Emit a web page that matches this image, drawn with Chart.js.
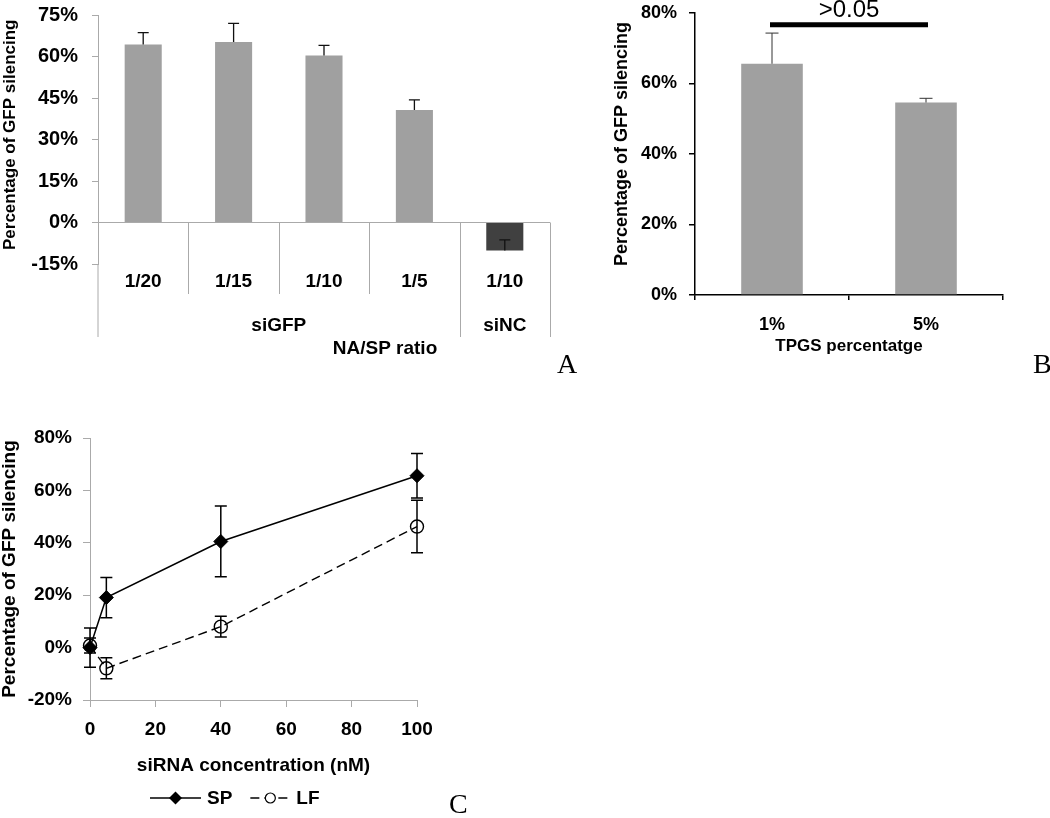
<!DOCTYPE html>
<html>
<head>
<meta charset="utf-8">
<title>GFP silencing</title>
<script src="https://cdn.jsdelivr.net/npm/chart.js@4.4.1/dist/chart.umd.min.js"></script>
<style>
  html, body { margin: 0; padding: 0; background: #fff; }
  #page { position: relative; width: 1050px; height: 818px; overflow: hidden; }
  .panel { position: absolute; }
  .tag { position: absolute; font-family: "Liberation Serif", "Times New Roman", serif; font-size: 28px; line-height: 28px; color: #000; }
</style>
</head>
<body>
<div id="page">
  <div class="panel" style="left:0;top:0;width:560px;height:380px"><canvas id="chartA"></canvas></div>
  <div class="panel" style="left:580px;top:0;width:470px;height:420px"><canvas id="chartB"></canvas></div>
  <div class="panel" style="left:0;top:420px;width:480px;height:398px"><canvas id="chartC"></canvas></div>
  <div class="tag" style="left:557px;top:350px">A</div>
  <div class="tag" style="left:1033px;top:350px">B</div>
  <div class="tag" style="left:449px;top:790px">C</div>
</div>
<script>
// Panel A - silencing vs NA/SP ratio
const ratioLabels = ['1/20', '1/15', '1/10', '1/5', '1/10'];
const ratioGroups = ['siGFP', 'siGFP', 'siGFP', 'siGFP', 'siNC'];
const ratioSilencing = [64.3, 65.2, 60.4, 40.7, -10.1];
const ratioError = [4.3, 6.8, 3.6, 3.6, 3.8];
const ratioTicks = [-15, 0, 15, 30, 45, 60, 75];

// Panel B - silencing vs TPGS percentage
const tpgsLabels = ['1%', '5%'];
const tpgsSilencing = [65.6, 54.6];
const tpgsError = [8.7, 1.2];
const tpgsTicks = [0, 20, 40, 60, 80];
const tpgsPValue = '>0.05';
const tpgsBracketLevel = 76.7;

// Panel C - silencing vs siRNA concentration
const concentrations = [0, 5, 40, 100];
const spSilencing = [0, 19.1, 40.5, 65.6];
const spError = [7.5, 7.7, 13.5, 8.5];
const lfSilencing = [0.8, -7.9, 8.0, 46.2];
const lfError = [2.9, 4.0, 4.0, 10.0];
const concTicks = [0, 20, 40, 60, 80, 100];
const concPctTicks = [-20, 0, 20, 40, 60, 80];

const FONT = '"Liberation Sans", Arial, Helvetica, sans-serif';
const axisGray = '#aaaaaa';
const barGray = '#a0a0a0';
const barDark = '#404040';

const bold = size => ({ family: FONT, size: size, weight: 'bold', lineHeight: 1.2 });
const pct = v => v + '%';
const fixedTicks = list => scale => { scale.ticks = list.map(v => ({ value: v })); };
// pin the scale box size so the plot area lands where the figure has it
const pinWidth = w => s => { s.width = w; s.paddingTop = 0; s.paddingBottom = 0; };
const pinHeight = h => s => { s.height = h; s.paddingLeft = 0; s.paddingRight = 0; };

// error bars drawn from the y scale (plus only, or plus and minus)
const errorBars = {
  id: 'errorBars',
  afterDatasetsDraw(chart) {
    const ctx = chart.ctx;
    const yScale = chart.scales.y;
    chart.data.datasets.forEach((ds, di) => {
      if (!ds.errors) return;
      const meta = chart.getDatasetMeta(di);
      ctx.save();
      ctx.strokeStyle = ds.errorColor || '#000';
      ctx.lineWidth = ds.errorWidth || 1;
      meta.data.forEach((el, i) => {
        const raw = ds.data[i];
        const val = typeof raw === 'object' ? raw.y : raw;
        const err = ds.errors[i];
        const cap = ds.errorCap / 2;
        const top = yScale.getPixelForValue(val + err);
        const bottom = yScale.getPixelForValue(ds.errorBoth ? val - err : val);
        ctx.beginPath();
        ctx.moveTo(el.x, top);
        ctx.lineTo(el.x, bottom);
        ctx.moveTo(el.x - cap, top);
        ctx.lineTo(el.x + cap, top);
        if (ds.errorBoth) {
          ctx.moveTo(el.x - cap, bottom);
          ctx.lineTo(el.x + cap, bottom);
        }
        ctx.stroke();
      });
      ctx.restore();
    });
  }
};

// multi-level category axis for panel A (dividers + group names)
const groupAxisA = {
  id: 'groupAxisA',
  afterDraw(chart) {
    const { ctx, chartArea, scales: { x, y } } = chart;
    const zeroY = y.getPixelForValue(0);
    const innerBottom = chartArea.bottom + 30;
    const outerBottom = chartArea.bottom + 73;
    const half = (x.getPixelForValue(1) - x.getPixelForValue(0)) / 2;
    ctx.save();
    ctx.strokeStyle = axisGray;
    ctx.lineWidth = 1;
    ctx.beginPath();
    ctx.moveTo(chartArea.left, chartArea.bottom);
    ctx.lineTo(chartArea.left, outerBottom);
    for (let i = 1; i <= ratioLabels.length; i++) {
      const bx = Math.round(x.getPixelForValue(i - 1) + half) + 0.5;
      const groupEnd = i === ratioLabels.length || ratioGroups[i] !== ratioGroups[i - 1];
      ctx.moveTo(bx, zeroY);
      ctx.lineTo(bx, groupEnd ? outerBottom : innerBottom);
    }
    ctx.stroke();

    ctx.fillStyle = '#000';
    ctx.font = 'bold 19px ' + FONT;
    ctx.textAlign = 'center';
    ctx.textBaseline = 'middle';
    let start = 0;
    for (let i = 1; i <= ratioGroups.length; i++) {
      if (i === ratioGroups.length || ratioGroups[i] !== ratioGroups[start]) {
        const cx = (x.getPixelForValue(start) + x.getPixelForValue(i - 1)) / 2;
        ctx.fillText(ratioGroups[start], cx, chartArea.bottom + 62);
        start = i;
      }
    }
    ctx.fillText('NA/SP ratio', 385, chartArea.bottom + 85);
    ctx.restore();
  }
};

// significance bracket for panel B
const pValueBar = {
  id: 'pValueBar',
  afterDraw(chart) {
    const { ctx, scales: { y } } = chart;
    const bars = chart.getDatasetMeta(0).data;
    const ly = y.getPixelForValue(tpgsBracketLevel);
    ctx.save();
    ctx.strokeStyle = '#000';
    ctx.lineWidth = 5;
    ctx.beginPath();
    ctx.moveTo(bars[0].x - 2, ly);
    ctx.lineTo(bars[1].x + 2, ly);
    ctx.stroke();
    ctx.fillStyle = '#000';
    ctx.font = '24px ' + FONT;
    ctx.textAlign = 'center';
    ctx.textBaseline = 'alphabetic';
    ctx.fillText(tpgsPValue, (bars[0].x + bars[1].x) / 2, ly - 8);
    ctx.restore();
  }
};

// Excel style legend (line + marker) for panel C
const legendC = {
  id: 'legendC',
  afterDraw(chart) {
    const ctx = chart.ctx;
    const ly = chart.chartArea.bottom + 98;
    let lx = 150;
    chart.data.datasets.forEach(ds => {
      const len = ds.borderDash ? 40 : 51;
      ctx.save();
      ctx.strokeStyle = '#000';
      ctx.lineWidth = ds.borderWidth;
      ctx.setLineDash(ds.borderDash || []);
      ctx.beginPath();
      ctx.moveTo(lx, ly);
      ctx.lineTo(lx + len, ly);
      ctx.stroke();
      ctx.setLineDash([]);
      const mx = lx + len / 2;
      ctx.beginPath();
      if (ds.pointStyle === 'rectRot') {
        const r = 6.5;
        ctx.moveTo(mx, ly - r);
        ctx.lineTo(mx + r, ly);
        ctx.lineTo(mx, ly + r);
        ctx.lineTo(mx - r, ly);
        ctx.closePath();
        ctx.fillStyle = '#000';
        ctx.fill();
      } else {
        ctx.arc(mx, ly, 5, 0, Math.PI * 2);
        ctx.fillStyle = '#fff';
        ctx.fill();
        ctx.lineWidth = 1.2;
        ctx.stroke();
      }
      ctx.fillStyle = '#000';
      ctx.font = 'bold 19px ' + FONT;
      ctx.textAlign = 'left';
      ctx.textBaseline = 'middle';
      ctx.fillText(ds.label, lx + len + 6, ly + 1);
      lx += len + 6 + ctx.measureText(ds.label).width + 18;
      ctx.restore();
    });
  }
};

Chart.defaults.font.family = FONT;
Chart.defaults.color = '#000';

// Panel A
new Chart(document.getElementById('chartA'), {
  type: 'bar',
  data: {
    labels: ratioLabels,
    datasets: [{
      data: ratioSilencing,
      backgroundColor: c => ratioGroups[c.dataIndex] === 'siNC' ? barDark : barGray,
      barPercentage: 0.41,
      categoryPercentage: 1,
      errors: ratioError,
      errorCap: 11,
      errorWidth: 1.3,
      errorColor: '#111'
    }]
  },
  options: {
    responsive: true,
    maintainAspectRatio: false,
    animation: false,
    layout: { padding: { top: 15, right: 10, bottom: 0, left: 0 } },
    plugins: { legend: { display: false }, tooltip: { enabled: false } },
    scales: {
      x: {
        grid: { display: false, drawTicks: false },
        border: { display: false },
        ticks: { font: bold(19), color: '#000', padding: 6, maxRotation: 0, autoSkip: false },
        afterFit: pinHeight(116)
      },
      y: {
        min: ratioTicks[0],
        max: ratioTicks[ratioTicks.length - 1],
        afterBuildTicks: fixedTicks(ratioTicks),
        ticks: { callback: pct, font: bold(20), color: '#000', padding: 14 },
        grid: {
          color: c => (c.tick && c.tick.value === 0) ? axisGray : 'transparent',
          tickColor: axisGray,
          tickLength: 6
        },
        border: { color: axisGray },
        title: { display: true, text: '  Percentage of GFP silencing', font: bold(17), color: '#000', padding: 0 },
        afterFit: pinWidth(98)
      }
    }
  },
  plugins: [errorBars, groupAxisA]
});

// Panel B
new Chart(document.getElementById('chartB'), {
  type: 'bar',
  data: {
    labels: tpgsLabels,
    datasets: [{
      data: tpgsSilencing,
      backgroundColor: barGray,
      barPercentage: 0.4,
      categoryPercentage: 1,
      errors: tpgsError,
      errorCap: 13,
      errorWidth: 1,
      errorColor: '#333'
    }]
  },
  options: {
    responsive: true,
    maintainAspectRatio: false,
    animation: false,
    layout: { padding: { top: 13, right: 47, bottom: 63, left: 31 } },
    plugins: { legend: { display: false }, tooltip: { enabled: false } },
    scales: {
      x: {
        grid: { offset: true, drawOnChartArea: false, color: '#000', tickLength: 5, lineWidth: 1.5 },
        border: { color: '#000', width: 1.5 },
        ticks: { font: bold(18), color: '#000', padding: 14, maxRotation: 0 },
        title: { display: true, text: 'TPGS percentatge', font: bold(17), color: '#000', padding: 0 },
        afterFit: pinHeight(62)
      },
      y: {
        min: tpgsTicks[0],
        max: tpgsTicks[tpgsTicks.length - 1],
        afterBuildTicks: fixedTicks(tpgsTicks),
        ticks: { callback: pct, font: bold(18), color: '#000', padding: 12 },
        grid: { drawOnChartArea: false, color: '#000', tickLength: 6, lineWidth: 1.5 },
        border: { color: '#000', width: 1.5 },
        title: { display: true, text: '    Percentage of GFP silencing', font: bold(18), color: '#000', padding: 0 },
        afterFit: pinWidth(84)
      }
    }
  },
  plugins: [errorBars, pValueBar]
});

// Panel C
new Chart(document.getElementById('chartC'), {
  type: 'line',
  data: {
    datasets: [{
      label: 'SP',
      data: concentrations.map((c, i) => ({ x: c, y: spSilencing[i] })),
      borderColor: '#000',
      borderWidth: 1.5,
      pointStyle: 'rectRot',
      pointRadius: 7,
      pointBackgroundColor: '#000',
      pointBorderColor: '#000',
      pointBorderWidth: 1,
      clip: false,
      errors: spError,
      errorBoth: true,
      errorCap: 12,
      errorWidth: 1.5
    }, {
      label: 'LF',
      data: concentrations.map((c, i) => ({ x: c, y: lfSilencing[i] })),
      borderColor: '#000',
      borderWidth: 1.4,
      borderDash: [9, 5],
      pointStyle: 'circle',
      pointRadius: 6.5,
      pointBackgroundColor: 'transparent',
      pointBorderColor: '#000',
      pointBorderWidth: 1.4,
      clip: false,
      errors: lfError,
      errorBoth: true,
      errorCap: 12,
      errorWidth: 1.5
    }]
  },
  options: {
    responsive: true,
    maintainAspectRatio: false,
    animation: false,
    layout: { padding: { top: 18, right: 63, bottom: 41, left: 0 } },
    plugins: { legend: { display: false }, tooltip: { enabled: false } },
    scales: {
      x: {
        type: 'linear',
        min: concTicks[0],
        max: concTicks[concTicks.length - 1],
        afterBuildTicks: fixedTicks(concTicks),
        grid: { drawOnChartArea: false, color: axisGray, tickLength: 7 },
        border: { color: axisGray },
        ticks: { font: bold(19), color: '#000', padding: 11, maxRotation: 0 },
        title: { display: true, text: 'siRNA concentration (nM)', font: bold(19), color: '#000', padding: 0 },
        afterFit: pinHeight(77)
      },
      y: {
        min: concPctTicks[0],
        max: concPctTicks[concPctTicks.length - 1],
        afterBuildTicks: fixedTicks(concPctTicks),
        ticks: { callback: pct, font: bold(19), color: '#000', padding: 11 },
        grid: { drawOnChartArea: false, color: axisGray, tickLength: 7 },
        border: { color: axisGray },
        title: { display: true, text: 'Percentage of GFP silencing', font: { family: FONT, size: 19, weight: 'bold', lineHeight: 1 }, color: '#000', padding: 0 },
        afterFit: pinWidth(90)
      }
    }
  },
  plugins: [errorBars, legendC]
});
</script>
</body>
</html>
